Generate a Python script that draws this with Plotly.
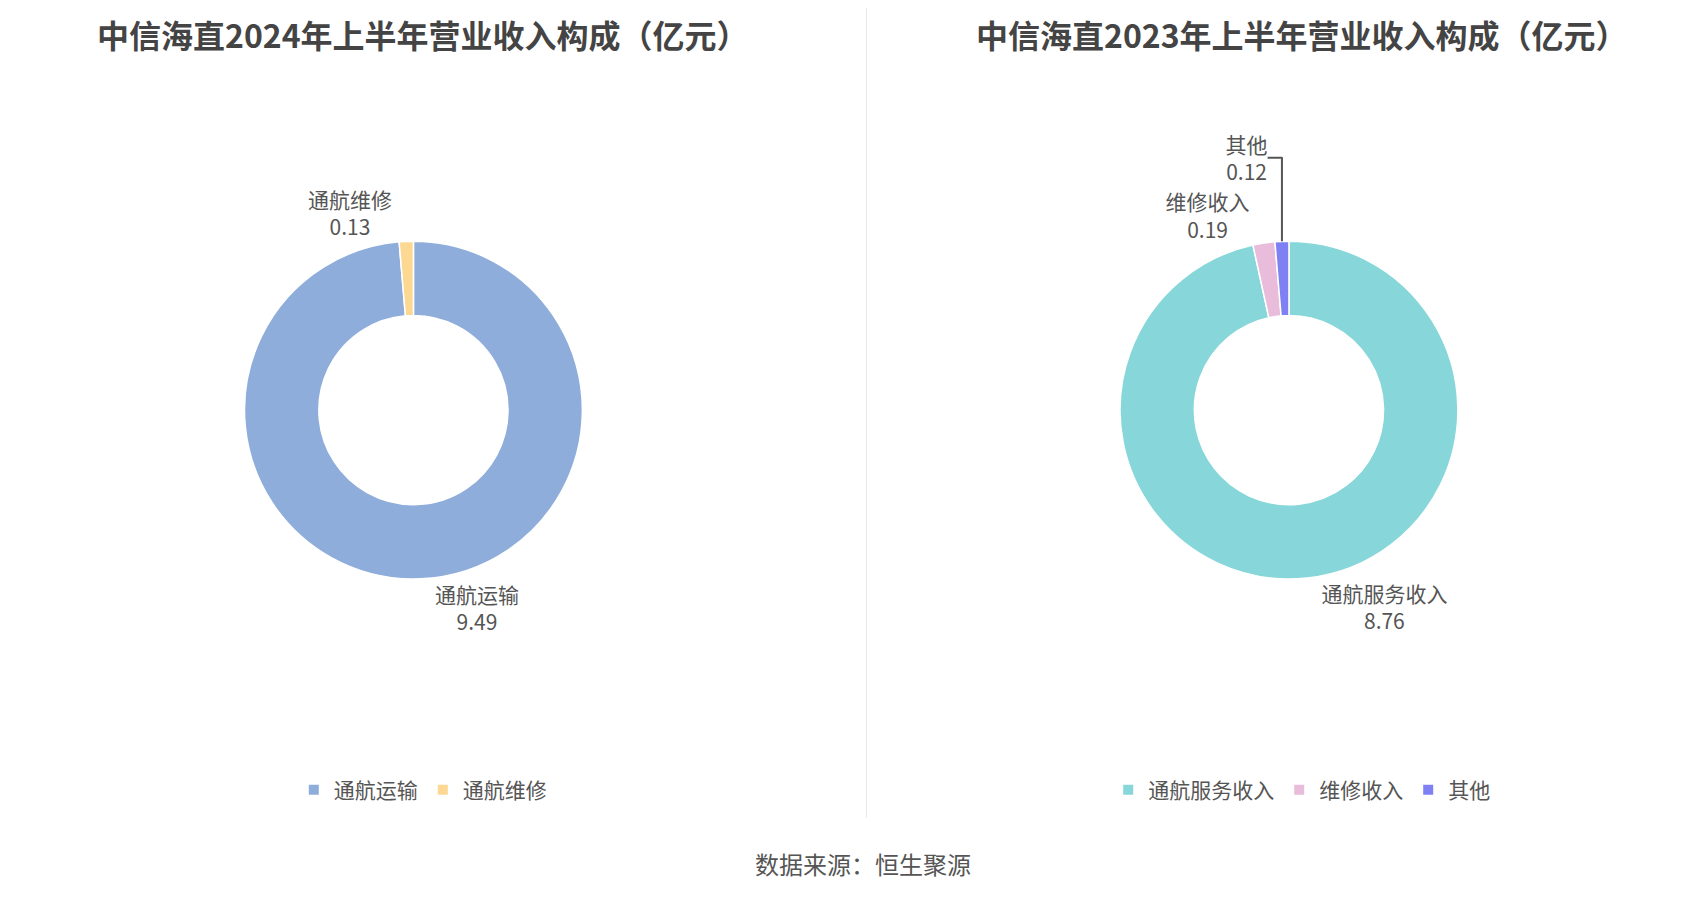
import plotly.graph_objects as go

left_labels = ["通航运输", "通航维修"]
left_values = [9.49, 0.13]
left_colors = ["#8EADDB", "#FDD892"]

right_labels = ["通航服务收入", "维修收入", "其他"]
right_values = [8.76, 0.19, 0.12]
right_colors = ["#87D6D9", "#E9BCDB", "#7E80F4"]

font = "Noto Sans CJK SC"
grey = "#555555"

fig = go.Figure()
fig.add_trace(go.Pie(
    labels=left_labels, values=left_values, hole=0.56, sort=False,
    direction="clockwise", rotation=0,
    marker=dict(colors=left_colors, line=dict(color="white", width=1.5)),
    textposition="outside", texttemplate="%{label}<br>%{value}",
    textfont=dict(size=21, color=grey), domain=dict(x=[0.139, 0.338], y=[0.378, 0.746]),
    legend="legend", hoverinfo="label+value",
))
fig.add_trace(go.Pie(
    labels=right_labels, values=right_values, hole=0.56, sort=False,
    direction="clockwise", rotation=0,
    marker=dict(colors=right_colors, line=dict(color="white", width=1.5)),
    textposition="outside", texttemplate="%{label}<br>%{value}",
    textfont=dict(size=21, color=grey), domain=dict(x=[0.654, 0.853], y=[0.378, 0.746]),
    legend="legend2", hoverinfo="label+value",
))

fig.update_layout(
    width=1700, height=918, paper_bgcolor="white", plot_bgcolor="white",
    margin=dict(l=0, r=0, t=0, b=0),
    font=dict(family=font, color=grey),
    legend=dict(orientation="h", x=0.244, xanchor="center", y=0.148, yanchor="middle",
                font=dict(size=21, color=grey), itemsizing="constant"),
    legend2=dict(orientation="h", x=0.761, xanchor="center", y=0.148, yanchor="middle",
                 font=dict(size=21, color=grey), itemsizing="constant"),
    annotations=[
        dict(text="<b>中信海直2024年上半年营业收入构成（亿元）</b>", x=0.244, y=0.999,
             xanchor="center", yanchor="top",
             xref="paper", yref="paper", showarrow=False, font=dict(size=32, color="#444")),
        dict(text="<b>中信海直2023年上半年营业收入构成（亿元）</b>", x=0.761, y=0.999,
             xanchor="center", yanchor="top",
             xref="paper", yref="paper", showarrow=False, font=dict(size=32, color="#444")),
        dict(text="数据来源：恒生聚源", x=0.503, y=0.047, xref="paper", yref="paper",
             xanchor="center", showarrow=False, font=dict(size=24, color=grey)),
    ],
    shapes=[dict(type="line", xref="paper", yref="paper", x0=0.505, x1=0.505, y0=0.118, y1=1,
                 line=dict(color="#E8E8E8", width=1))],
)

fig.write_html("out.html")
